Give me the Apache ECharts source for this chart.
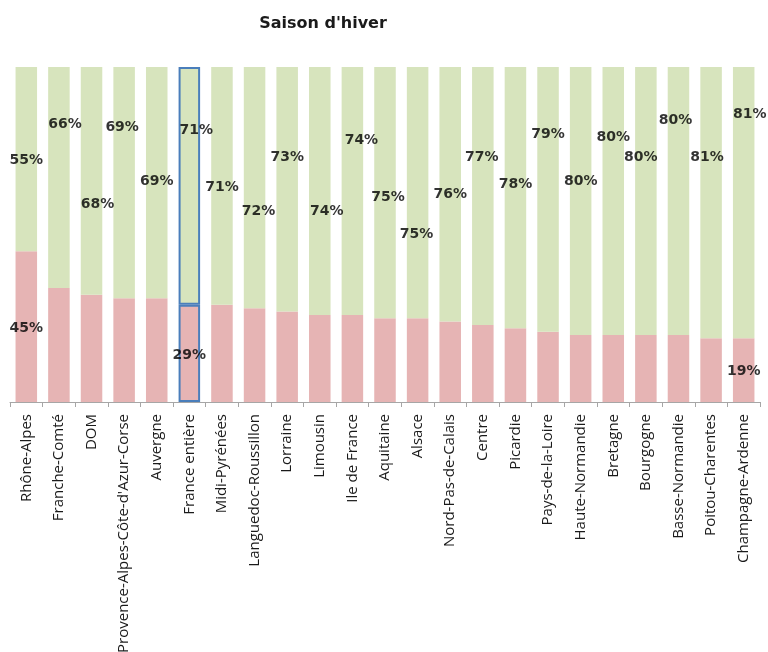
<!DOCTYPE html>
<html>
<head>
<meta charset="utf-8">
<script src="https://cdn.jsdelivr.net/npm/echarts@6/dist/echarts.min.js"></script>
<style>
    html, body { margin: 0; padding: 0; background: #fff; }
    #chart { width: 768px; height: 652px; }
</style>
</head>
<body>
<div id="chart"></div>
<script>
    // régions, part hors saison (rose) / part en saison (vert), en %
    var regions = ['Rhône-Alpes', 'Franche-Comté', 'DOM', "Provence-Alpes-Côte-d'Azur-Corse", 'Auvergne',
        'France entière', 'Midi-Pyrénées', 'Languedoc-Roussillon', 'Lorraine', 'Limousin', 'Ile de France',
        'Aquitaine', 'Alsace', 'Nord-Pas-de-Calais', 'Centre', 'Picardie', 'Pays-de-la-Loire',
        'Haute-Normandie', 'Bretagne', 'Bourgogne', 'Basse-Normandie', 'Poitou-Charentes', 'Champagne-Ardenne'];
    var pinkShare = [45, 34, 32, 31, 31, 29, 29, 28, 27, 26, 26, 25, 25, 24, 23, 22, 21, 20, 20, 20, 20, 19, 19];
    var greenShare = [55, 66, 68, 69, 69, 71, 71, 72, 73, 74, 74, 75, 75, 76, 77, 78, 79, 80, 80, 80, 80, 81, 81];

    // hauteur (en % de l'axe) où chaque étiquette a été déplacée dans le graphique d'origine
    var greenLabelLevel = [72, 83, 59, 82, 66, 81, 64, 57, 73, 57, 78, 61, 50, 62, 73, 65, 80, 66, 79, 73, 84, 73, 86];
    var greenLabelShift = [0, 6, 6, -2, 0, 7, 0, 4, 0, 7, 9, 3, -1, 0, -1, 0, 0, 0, 0, -5, -3, -4, 6];
    var pinkLabelLevel = [22, null, null, null, null, 14, null, null, null, null, null, null,
        null, null, null, null, null, null, null, null, null, null, 9];

    var highlight = 'France entière';

    var chart = echarts.init(document.getElementById('chart'));

    function barData(values) {
        return values.map(function (v, i) {
            if (regions[i] === highlight) {
                return { value: v, itemStyle: { borderColor: '#4a7ebb', borderWidth: 2 } };
            }
            return v;
        });
    }

    var labelStyle = {
        show: true,
        position: 'inside',
        fontFamily: 'DejaVu Sans',
        fontWeight: 'bold',
        fontSize: 14,
        color: '#000',
        textBorderWidth: 0
    };

    var greenLabels = greenLabelLevel.map(function (lv, i) {
        return {
            value: [i, lv],
            label: Object.assign({}, labelStyle, {
                formatter: greenShare[i] + '%',
                offset: [greenLabelShift[i], 0]
            })
        };
    });
    var pinkLabels = [];
    pinkLabelLevel.forEach(function (lv, i) {
        if (lv == null) return;
        pinkLabels.push({
            value: [i, lv],
            label: Object.assign({}, labelStyle, { formatter: pinkShare[i] + '%' })
        });
    });

    chart.setOption({
        animation: false,
        title: {
            text: "Saison d'hiver",
            left: 318,
            top: 11,
            textAlign: 'center',
            textStyle: { fontFamily: 'DejaVu Sans', fontWeight: 'bold', fontSize: 16, color: '#1a1a1a' }
        },
        grid: { left: 10, right: 8, top: 67, bottom: 250, containLabel: false, outerBoundsMode: 'none' },
        xAxis: {
            type: 'category',
            data: regions,
            axisLine: { lineStyle: { color: '#a6a6a6' } },
            axisTick: { show: true, alignWithLabel: false, length: 5, lineStyle: { color: '#a6a6a6' } },
            axisLabel: {
                interval: 0,
                rotate: 90,
                margin: 12,
                fontFamily: 'Open Sans',
                fontSize: 15,
                color: '#1a1a1a'
            }
        },
        yAxis: { type: 'value', min: 0, max: 100, show: false },
        series: [
            {
                name: 'hors saison',
                type: 'bar',
                stack: 'total',
                barCategoryGap: '34%',
                itemStyle: { color: '#e6b4b4' },
                data: barData(pinkShare)
            },
            {
                name: 'saison',
                type: 'bar',
                stack: 'total',
                barCategoryGap: '34%',
                itemStyle: { color: '#d7e4bd' },
                data: barData(greenShare)
            },
            {
                name: 'étiquettes vertes',
                type: 'scatter',
                symbolSize: 0,
                z: 5,
                data: greenLabels
            },
            {
                name: 'étiquettes roses',
                type: 'scatter',
                symbolSize: 0,
                z: 5,
                data: pinkLabels
            }
        ]
    });
</script>
</body>
</html>
